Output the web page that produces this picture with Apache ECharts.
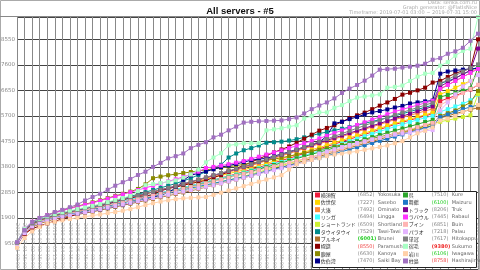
<!DOCTYPE html>
<html><head><meta charset="utf-8">
<script src="https://cdn.jsdelivr.net/npm/echarts@6/dist/echarts.min.js"></script>
<style>html,body{margin:0;padding:0;background:#fff}#c{width:480px;height:270px}</style>
</head><body><div id="c"></div>
<script>
const times = ['2019-07-01 03:00','2019-07-01 15:00','2019-07-02 03:00','2019-07-02 15:00','2019-07-03 03:00','2019-07-03 15:00','2019-07-04 03:00','2019-07-04 15:00','2019-07-05 03:00','2019-07-05 15:00',
'2019-07-06 03:00','2019-07-06 15:00','2019-07-07 03:00','2019-07-07 15:00','2019-07-08 03:00','2019-07-08 15:00','2019-07-09 03:00','2019-07-09 15:00','2019-07-10 03:00','2019-07-10 15:00',
'2019-07-11 03:00','2019-07-11 15:00','2019-07-12 03:00','2019-07-12 15:00','2019-07-13 03:00','2019-07-13 15:00','2019-07-14 03:00','2019-07-14 15:00','2019-07-15 03:00','2019-07-15 15:00',
'2019-07-16 03:00','2019-07-16 15:00','2019-07-17 03:00','2019-07-17 15:00','2019-07-18 03:00','2019-07-18 15:00','2019-07-19 03:00','2019-07-19 15:00','2019-07-20 03:00','2019-07-20 15:00',
'2019-07-21 03:00','2019-07-21 15:00','2019-07-22 03:00','2019-07-22 15:00','2019-07-23 03:00','2019-07-23 15:00','2019-07-24 03:00','2019-07-24 15:00','2019-07-25 03:00','2019-07-25 15:00',
'2019-07-26 03:00','2019-07-26 15:00','2019-07-27 03:00','2019-07-27 15:00','2019-07-28 03:00','2019-07-28 15:00','2019-07-29 03:00','2019-07-29 15:00','2019-07-30 03:00','2019-07-30 15:00',
'2019-07-31 03:00','2019-07-31 15:00'];

const namesJp = ['横須賀','佐世保','大湊','リンガ','ショートランド','タウイタウイ','ブルネイ','幌筵','鹿屋','佐伯湾','呉','舞鶴','トラック','ラバウル','ブイン','パラオ','単冠','宿毛','岩川','柱島'];
const namesEn = ['Yokosuka','Sasebo','Ominato','Lingga','Shortland','Tawi-Tawi','Brunei','Paramushir','Kanoya','Saiki Bay','Kure','Maizuru','Truk','Rabaul','Buin','Palau','Hitokappu','Sukumo','Iwagawa','Hashirajima'];
const finals = [6852,7227,7492,6494,6509,7529,6001,8550,6630,7470,7510,6100,8206,7445,6851,7218,7617,9380,6106,8758];
const colors = ['#ee1c3c','#ffd700','#ff8c3a','#44ffff','#ccf030','#008b8b','#b0702a','#8b0000','#8a8a00','#00008b','#2aa52a','#1e78c8','#800090','#ff33ff','#ffb4b4','#e4b4ff','#808080','#a8ffc4','#ffd0a8','#a070c0'];

const yokosuka = [960,1420,1660,1800,1900,1980,2040,2100,2140,2190,
2240,2300,2370,2440,2500,2560,2630,2700,2760,2830,
2900,2960,3030,3100,3170,3240,3310,3390,3460,3540,
3620,3700,3780,3870,3950,4040,4120,4210,4300,4380,
4470,4560,4650,4740,4830,4920,5010,5100,5190,5290,
5380,5460,5540,5620,5700,5780,6250,6350,6450,6560,
6680,6852];
const sasebo = [940,1380,1640,1790,1900,1990,2060,2120,2180,2240,
2300,2370,2440,2510,2580,2650,2720,2790,2860,2930,
3000,3060,3130,3200,3270,3340,3410,3480,3550,3620,
3690,3770,3850,3930,4010,4100,4180,4270,4350,4440,
4520,4610,4700,4790,4880,4970,5060,5150,5240,5330,
5420,5500,5580,5660,5740,5820,6500,6620,6750,6880,
7000,7227];
const ominato = [980,1450,1700,1830,1920,2000,2070,2130,2190,2250,
2310,2380,2450,2520,2590,2660,2730,2800,2870,2940,
3010,3080,3160,3230,3310,3380,3460,3530,3610,3680,
3760,3850,3940,4030,4120,4210,4300,4390,4480,4570,
4660,4750,4840,4930,5020,5110,5200,5290,5380,5470,
5560,5640,5720,5800,5880,5960,6700,6850,7000,7150,
7300,7492];
const lingga = [1000,1480,1720,1850,1940,2010,2080,2140,2200,2250,
2300,2360,2420,2480,2540,2600,2660,2720,2780,2840,
2900,2960,3030,3100,3170,3240,3310,3380,3450,3520,
3590,3670,3750,3830,3910,3990,4070,4150,4230,4310,
4400,4490,4580,4670,4760,4850,4940,5030,5120,5210,
5300,5390,5470,5550,5630,5700,5850,5950,6050,6150,
6280,6494];
const shortland = [900,1320,1560,1700,1800,1880,1950,2010,2060,2110,
2160,2220,2280,2340,2400,2460,2520,2580,2640,2700,
2760,2820,2890,2960,3030,3100,3170,3240,3310,3380,
3450,3530,3610,3690,3770,3850,3930,4010,4090,4170,
4250,4330,4410,4490,4570,4650,4730,4810,4880,4950,
5020,5090,5160,5230,5300,5420,5480,5540,5600,5660,
5720,6509];
const tawitawi = [970,1450,1700,1840,1940,2020,2090,2150,2210,2270,
2330,2400,2470,2540,2620,2700,2780,2860,2940,3020,
3100,3180,3280,3380,3500,3620,3750,3880,4150,4300,
4420,4500,4600,4700,4720,4740,4780,4830,4900,4970,
5040,5100,5160,5220,5280,5350,5420,5490,5560,5630,
5700,5780,5860,5940,6020,6100,6900,7000,7100,7250,
7380,7529];
const brunei = [900,1300,1550,1690,1780,1860,1920,1980,2030,2080,
2130,2190,2250,2310,2370,2430,2490,2550,2610,2670,
2730,2790,2850,2910,2980,3050,3120,3190,3260,3330,
3400,3470,3550,3630,3710,3790,3870,3950,4030,4110,
4190,4270,4350,4430,4510,4590,4670,4750,4830,4910,
4990,5060,5130,5200,5270,5340,5620,5700,5780,5860,
5930,6001];
const paramushir = [950,1300,1500,1600,1700,1780,1860,1950,2050,2150,
2250,2330,2420,2500,2580,2640,2700,2730,2760,2900,
3000,3050,3120,3180,3240,3300,3400,3500,3620,3740,
3860,3980,4100,4220,4340,4450,4560,4700,4850,5000,
5150,5250,5350,5480,5620,5720,5820,5950,6080,6200,
6330,6490,6560,6650,6750,6940,7000,7150,7280,7380,
7460,8550];
const kanoya = [990,1470,1740,1890,2000,2100,2180,2260,2340,2410,
2480,2560,2640,2720,2800,2880,2980,3150,3380,3440,
3490,3530,3570,3610,3650,3690,3730,3770,3810,3850,
3890,3940,3990,4040,4090,4140,4200,4260,4320,4380,
4440,4500,4560,4620,4680,4740,4800,4860,4920,4980,
5040,5110,5180,5250,5330,5420,5700,5800,5900,6050,
6196,6630];
const saikiBay = [880,1350,1600,1740,1830,1900,1960,2010,2060,2110,
2160,2220,2280,2340,2400,2460,2530,2600,2670,2740,
2860,3000,3300,3490,3560,3630,3710,3790,3850,3910,
3980,4050,4090,4120,4200,4280,4360,4450,4540,4630,
4720,4950,5420,5480,5580,5660,5750,5830,5880,5940,
6010,6070,6160,6200,6240,6270,7270,7350,7390,7420,
7450,7470];
const kure = [950,1400,1650,1780,1870,1950,2020,2080,2130,2180,
2230,2290,2350,2410,2470,2530,2590,2650,2710,2780,
2850,2920,2990,3060,3130,3200,3270,3340,3410,3480,
3550,3630,3710,3790,3870,3950,4030,4110,4190,4270,
4350,4430,4510,4590,4670,4750,4830,4910,4990,5070,
5150,5230,5310,5390,5470,5550,6400,6480,6560,6640,
6720,7510];
const maizuru = [920,1360,1600,1740,1840,1920,1990,2050,2110,2170,
2230,2290,2350,2410,2470,2530,2590,2650,2710,2770,
2830,2890,2950,3010,3070,3130,3190,3250,3310,3370,
3430,3500,3570,3640,3710,3780,3850,3920,3990,4060,
4130,4210,4290,4370,4450,4530,4610,4690,4770,4850,
4930,5010,5090,5170,5250,5330,5650,5750,5850,5950,
6030,6100];
const truk = [960,1430,1680,1820,1920,2000,2070,2130,2190,2250,
2310,2380,2450,2520,2590,2660,2730,2800,2870,2940,
3010,3080,3160,3240,3320,3400,3480,3560,3640,3720,
3800,3890,3980,4070,4160,4250,4340,4430,4520,4610,
4700,4790,4880,4970,5060,5150,5240,5330,5420,5510,
5600,5690,5780,5870,5960,6050,6800,6950,7100,7250,
7400,8206];
const rabaul = [1000,1500,1760,1900,2000,2090,2170,2250,2320,2390,
2460,2540,2620,2700,2780,2860,2940,3020,3100,3180,
3260,3340,3430,3520,3620,3760,3800,3850,3900,3960,
4020,4100,4180,4260,4340,4420,4500,4590,4680,4770,
4860,4960,5060,5160,5260,5360,5460,5560,5660,5760,
5860,5940,6020,6100,6180,6260,6700,6850,7000,7150,
7300,7445];
const buin = [930,1370,1620,1760,1860,1940,2010,2070,2130,2190,
2250,2310,2370,2430,2490,2550,2610,2670,2730,2790,
2850,2910,2980,3050,3120,3190,3260,3330,3400,3470,
3540,3610,3680,3750,3820,3890,3960,4030,4100,4170,
4240,4320,4400,4480,4560,4640,4720,4800,4880,4960,
5040,5120,5200,5280,5360,5440,6100,6250,6400,6550,
6700,6851];
const palau = [900,1330,1580,1720,1810,1890,1950,2010,2060,2110,
2160,2220,2280,2340,2400,2460,2520,2580,2640,2700,
2760,2820,2880,2940,3000,3060,3120,3190,3260,3330,
3400,3470,3540,3610,3680,3750,3820,3900,3980,4060,
4300,4380,4460,4540,4620,4690,4760,4830,4890,4950,
5000,5040,5080,5120,5150,5170,5900,6200,6500,6800,
7000,7218];
const hitokappu = [970,1440,1690,1830,1930,2010,2080,2140,2200,2260,
2320,2390,2460,2530,2600,2670,2740,2810,2880,2950,
3020,3090,3170,3250,3330,3410,3490,3570,3650,3730,
3810,3900,3990,4080,4170,4260,4350,4440,4540,4640,
4740,4840,4940,5040,5140,5240,5340,5440,5540,5640,
5740,5830,5920,6010,6100,6190,6900,7050,7200,7350,
7480,7617];
const sukumo = [1000,1500,1750,1870,1960,2040,2110,2170,2230,2290,
2350,2420,2490,2570,2640,2720,2900,3120,3160,3200,
3250,3300,3400,3520,3700,3970,4150,4310,4600,4640,
4680,4680,4690,5160,5200,5240,5300,5350,5600,5700,
5830,5830,6000,6100,6250,6380,6420,6460,6500,6750,
6780,6830,7000,7160,7270,7300,7570,7700,7940,8120,
8200,9380];
const iwagawa = [790,1150,1400,1560,1700,1760,1810,1860,1910,1950,
1990,2030,2080,2120,2170,2230,2300,2380,2450,2510,
2560,2600,2630,2650,2665,2680,2760,2840,2920,3000,
3085,3170,3250,3330,3410,3493,3700,3900,3980,4060,
4122,4200,4260,4300,4340,4380,4440,4490,4540,4600,
4680,4760,4900,5050,5150,5270,5530,5600,5700,5850,
5950,6106];
const hashirajima = [1000,1450,1750,1900,2000,2120,2200,2300,2400,2550,
2680,2800,2950,3100,3230,3350,3500,3620,3800,3950,
4120,4200,4300,4500,4620,4720,4900,5000,5160,5300,
5450,5480,5500,5510,5520,5530,5580,5640,5790,5950,
6085,6200,6350,6550,6715,6850,7010,7200,7420,7440,
7456,7500,7530,7567,7641,7789,7850,8011,8100,8233,
8493,8758];

const seriesData = [yokosuka,sasebo,ominato,lingga,shortland,tawitawi,brunei,paramushir,kanoya,saikiBay,kure,maizuru,truk,rabaul,buin,palau,hitokappu,sukumo,iwagawa,hashirajima];
const yMax = 9380, yStep = 950;

const minV = Math.min(...finals), maxV = Math.max(...finals);
const sortedF = finals.slice().sort((a,b)=>a-b);
function valKey(v){
  if (v === minV) return 'gb';
  if (v === maxV) return 'rb';
  if (v <= sortedF[2]) return 'g';
  if (v >= sortedF[sortedF.length-3]) return 'r';
  return 'v';
}
const FF = '"DejaVu Sans", sans-serif';
const FS = 5;
function makeRich(jw){
  const r = {
    gap:{width:0.8, fontSize:FS},
    j:{width:jw, fontSize:FS, color:'#333', fontFamily:'"Noto Sans CJK JP", sans-serif'},
    v:{width:20, fontSize:FS, color:'#888', fontFamily:FF},
    g:{width:20, fontSize:FS, color:'#22cc22', fontFamily:FF},
    gb:{width:20, fontSize:FS, color:'#22cc22', fontWeight:'bold', fontFamily:FF},
    r:{width:20, fontSize:FS, color:'#ee4444', fontFamily:FF},
    rb:{width:20, fontSize:FS, color:'#ee2222', fontWeight:'bold', fontFamily:FF},
    e:{fontSize:FS, color:'#666', fontFamily:FF}
  };
  colors.forEach((c,i)=>{ r['s'+i] = {width:5, height:5, backgroundColor:c}; });
  return r;
}
function fmt(name){
  const i = namesJp.indexOf(name);
  const k = valKey(finals[i]);
  return '{s' + i + '|}{gap|}{j|' + name + '}{' + k + '|(' + finals[i] + ')}{e|' + namesEn[i] + '}';
}

const chart = echarts.init(document.getElementById('c'), null, {renderer:'canvas', width:480, height:270});
const legendCommon = {
  orient:'vertical', icon:'rect', itemWidth:0, itemHeight:5, itemGap:1.33, padding:0, z:20,
  formatter: fmt, selectedMode:false
};
chart.setOption({
  animation:false,
  backgroundColor:'#fff',
  title:{text:'All servers - #5', left:'center', top:1,
    textStyle:{fontSize:9.5, fontWeight:'bold', color:'#111', fontFamily:'"Liberation Sans", sans-serif'}},
  graphic:[
    {type:'rect', z:-1, silent:true, shape:{x:0.5,y:0.5,width:479,height:269}, style:{fill:'none', stroke:'#aaa', lineWidth:1}},
    {type:'line', z:10, silent:true, shape:{x1:0,y1:16.5,x2:480,y2:16.5}, style:{stroke:'#888', lineWidth:1}},
    {type:'text', z:10, silent:true, style:{text:'Data: senka.com.ru', x:477, y:0.5, textAlign:'right', fontSize:5, fill:'#aaa', fontFamily:FF}},
    {type:'text', z:10, silent:true, style:{text:'Graph generator: @FlatIsNice', x:477, y:5.5, textAlign:'right', fontSize:5, fill:'#aaa', fontFamily:FF}},
    {type:'text', z:10, silent:true, style:{text:'Timeframe: 2019-07-01 03:00 ~ 2019-07-31 15:00', x:477, y:10.5, textAlign:'right', fontSize:5, fill:'#aaa', fontFamily:FF}},
    {type:'rect', z:15, silent:true, shape:{x:312.5,y:191.5,width:164,height:76}, style:{fill:'#fff', stroke:'#222', lineWidth:1}}
  ],
  legend:[
    Object.assign({}, legendCommon, {left:310, top:192, data:namesJp.slice(0,10), textStyle:{fontSize:FS, lineHeight:6, rich:makeRich(37)}}),
    Object.assign({}, legendCommon, {left:398, top:192, data:namesJp.slice(10), textStyle:{fontSize:FS, lineHeight:6, rich:makeRich(23)}})
  ],
  grid:{left:17, top:17, right:2, bottom:1, outerBoundsMode:'none'},
  xAxis:{type:'category', data:times, boundaryGap:false, offset:-48,
    axisLine:{show:false}, axisTick:{show:false},
    axisLabel:{interval:0, rotate:-90, fontSize:5, color:'#aaa', margin:2, fontFamily:FF},
    splitLine:{show:true, interval:0, lineStyle:{color:'#888', width:1}}},
  yAxis:{type:'value', min:0, max:yMax, interval:yStep,
    axisLine:{show:true, lineStyle:{color:'#888'}}, axisTick:{show:false},
    axisLabel:{fontSize:5.5, color:'#888', margin:2, showMaxLabel:false, showMinLabel:false, fontFamily:FF,
      formatter: v => String(v)},
    splitLine:{show:true, lineStyle:{color:'#444', width:1}}},
  series: seriesData.map((d,i)=>({
    name:namesJp[i], type:'line', data:d, symbol:'rect', symbolSize:4, showSymbol:true,
    itemStyle:{color:colors[i]}, lineStyle:{width:1, color:colors[i]}, z:2
  }))
});
</script></body></html>
